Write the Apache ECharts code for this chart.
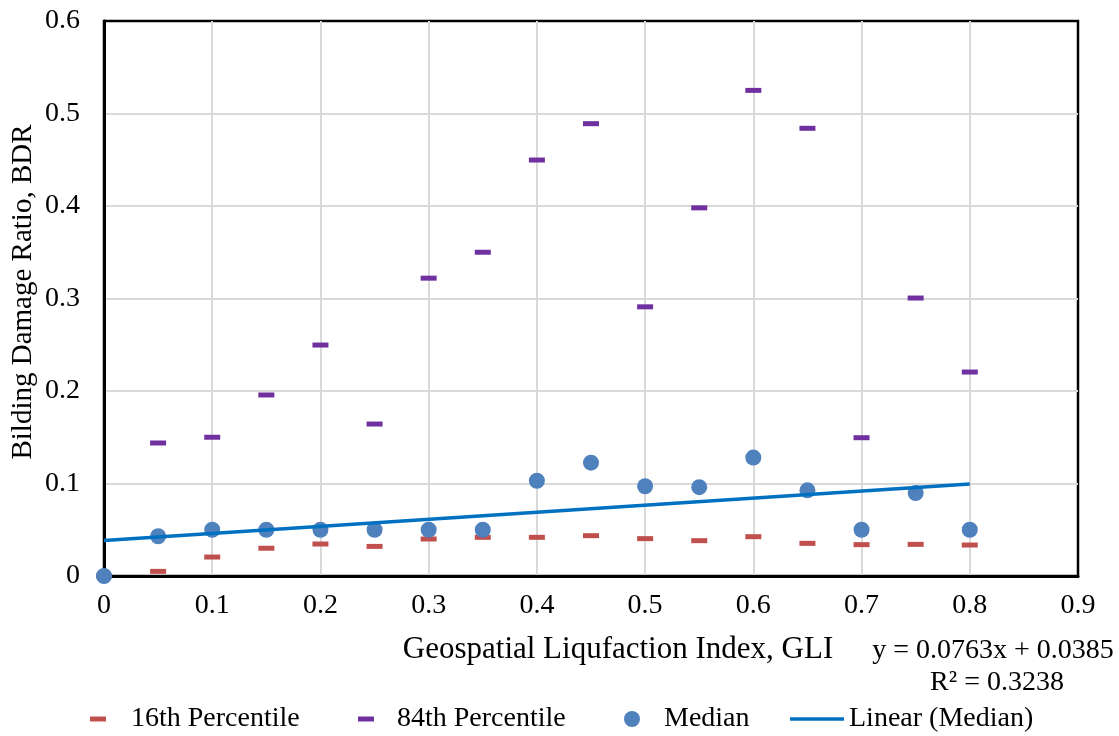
<!DOCTYPE html>
<html>
<head>
<meta charset="utf-8">
<script src="https://cdn.jsdelivr.net/npm/echarts@6/dist/echarts.min.js"></script>
<style>
  html, body { margin: 0; padding: 0; background: #fff; }
  #chart { width: 1119px; height: 736px; }
</style>
</head>
<body>
<div id="chart"></div>
<script>
// Geospatial Liquefaction Index bins
const gli = [0, 0.05, 0.1, 0.15, 0.2, 0.25, 0.3, 0.35, 0.4, 0.45, 0.5, 0.55, 0.6, 0.65, 0.7, 0.75, 0.8];
// Building damage ratio statistics per bin
const p16 = [0, 0.005, 0.0205, 0.030, 0.0346, 0.032, 0.040, 0.0418, 0.0418, 0.0436, 0.0404, 0.0382, 0.0425, 0.0353, 0.0339, 0.0342, 0.0335];
const p84 = [null, 0.1438, 0.150, 0.1957, 0.2497, 0.1643, 0.322, 0.350, 0.4497, 0.489, 0.291, 0.398, 0.525, 0.484, 0.1495, 0.3005, 0.2205];
const median = [0, 0.043, 0.050, 0.050, 0.050, 0.050, 0.050, 0.050, 0.103, 0.1225, 0.097, 0.096, 0.128, 0.0926, 0.050, 0.0897, 0.050];
// Linear trend of the median
const trendSlope = 0.0763;
const trendIntercept = 0.0385;
const trendRange = [0, 0.8];
const trendLabel = ['y = 0.0763x + 0.0385', 'R\u00b2 = 0.3238'];

const FONT = '"Liberation Serif", "Times New Roman", serif';
const FS = 28;

const pair = (ys) => gli.map((x, i) => [x, ys[i]]).filter(p => p[1] !== null);
const trendData = trendRange.map(x => [x, trendSlope * x + trendIntercept]);

const chart = echarts.init(document.getElementById('chart'), null, { renderer: 'canvas' });
const legendText = { fontFamily: FONT, fontSize: FS, color: '#000', lineHeight: 30 };
const tickFmt = v => String(Math.round(v * 10) / 10);

chart.setOption({
  backgroundColor: '#fff',
  animation: false,
  grid: {
    left: 104, right: 41, top: 21, bottom: 160,
    show: true, borderColor: '#000', borderWidth: 2.5,
    outerBoundsMode: 'none', containLabel: false
  },
  xAxis: {
    type: 'value', min: 0, max: 0.9, interval: 0.1,
    axisLine: { show: true, lineStyle: { color: '#000', width: 3 } },
    axisTick: { show: false },
    splitLine: { show: true, showMinLine: false, showMaxLine: false, lineStyle: { color: '#d9d9d9', width: 2 } },
    axisLabel: { margin: 16, fontFamily: FONT, fontSize: FS, color: '#000', formatter: tickFmt }
  },
  yAxis: {
    type: 'value', min: 0, max: 0.6, interval: 0.1,
    axisLine: { show: true, lineStyle: { color: '#000', width: 3 } },
    axisTick: { show: false },
    splitLine: { show: true, showMinLine: false, showMaxLine: false, lineStyle: { color: '#d9d9d9', width: 2 } },
    axisLabel: { margin: 24, fontFamily: FONT, fontSize: FS, color: '#000', formatter: tickFmt }
  },
  legend: [
    { data: [{ name: '16th Percentile', icon: 'rect' }], left: 90, top: 704, padding: 0,
      itemWidth: 16, itemHeight: 5, textStyle: Object.assign({ padding: [0, 0, 0, 20] }, legendText) },
    { data: [{ name: '84th Percentile', icon: 'rect' }], left: 358, top: 704, padding: 0,
      itemWidth: 16, itemHeight: 5, textStyle: Object.assign({ padding: [0, 0, 0, 18] }, legendText) },
    { data: [{ name: 'Median', icon: 'circle' }], left: 624, top: 704, padding: 0,
      itemWidth: 16, itemHeight: 16, textStyle: Object.assign({ padding: [0, 0, 0, 19] }, legendText) },
    { data: [{ name: 'Linear (Median)', icon: 'rect' }], left: 790, top: 704, padding: 0,
      itemWidth: 54, itemHeight: 3.5, textStyle: Object.assign({ padding: [0, 0, 0, 0] }, legendText) }
  ],
  graphic: [
    { type: 'text', x: 618, y: 650,
      style: { text: 'Geospatial Liqufaction Index, GLI', font: '31px ' + FONT, fill: '#000', textAlign: 'center', textVerticalAlign: 'middle' } },
    { type: 'text', x: 23, y: 292, rotation: Math.PI / 2,
      style: { text: 'Bilding Damage Ratio, BDR', font: '29px ' + FONT, fill: '#000', textAlign: 'center', textVerticalAlign: 'middle' } },
    { type: 'text', x: 993, y: 651,
      style: { text: trendLabel[0], font: '28px ' + FONT, fill: '#000', textAlign: 'center', textVerticalAlign: 'middle' } },
    { type: 'text', x: 997, y: 683,
      style: { text: trendLabel[1], font: '28px ' + FONT, fill: '#000', textAlign: 'center', textVerticalAlign: 'middle' } }
  ],
  series: [
    { name: '16th Percentile', type: 'scatter', data: pair(p16), symbol: 'rect', symbolSize: [16, 5],
      itemStyle: { color: '#C0504D', opacity: 1 }, z: 2 },
    { name: '84th Percentile', type: 'scatter', data: pair(p84), symbol: 'rect', symbolSize: [16, 5],
      itemStyle: { color: '#7030A0', opacity: 1 }, z: 3 },
    { name: 'Median', type: 'scatter', data: pair(median), symbol: 'circle', symbolSize: 16,
      itemStyle: { color: '#4F81BD', opacity: 1 }, z: 4 },
    { name: 'Linear (Median)', type: 'line', data: trendData, symbol: 'none', showSymbol: false,
      lineStyle: { color: '#0070C0', width: 3.5 }, itemStyle: { color: '#0070C0' }, z: 5 }
  ]
});
</script>
</body>
</html>
